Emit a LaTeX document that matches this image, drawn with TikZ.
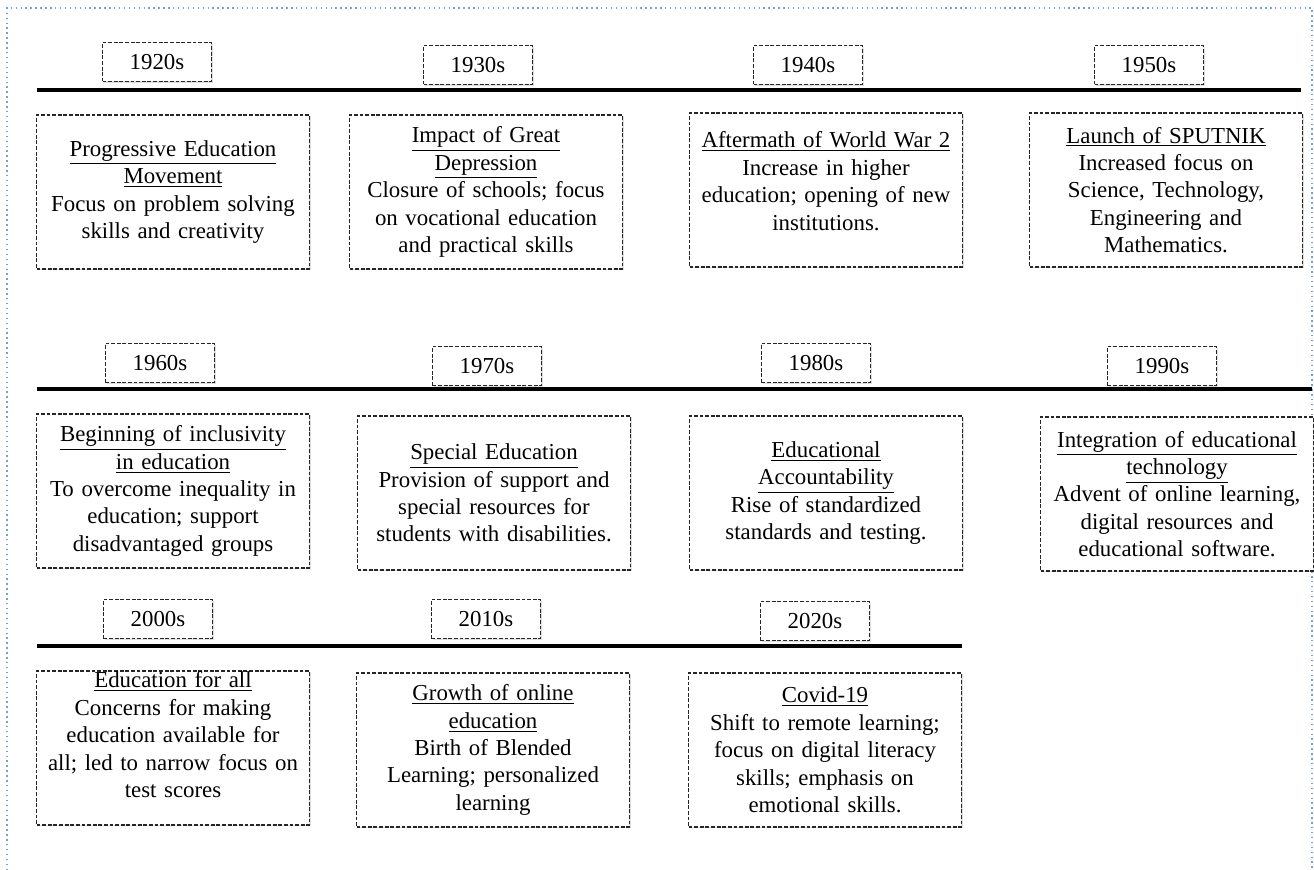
\documentclass[tikz,border=0pt]{standalone}
\usepackage{fontspec}
\setmainfont{Liberation Serif}
\usetikzlibrary{shadows}

\definecolor{framblue}{RGB}{120,160,210}

\tikzset{
    yearbox/.style = {draw = black!85, line width = 1pt, dash pattern = on 2.2pt off 1pt,
        fill = white, drop shadow = {opacity = 0.25, shadow xshift = 0.7pt, shadow yshift = -0.7pt},
        minimum width = 2.18cm, minimum height = 0.78cm, inner sep = 0pt},
    eventbox/.style = {draw = black!85, line width = 1pt, dash pattern = on 2.2pt off 1pt,
        fill = white, drop shadow = {opacity = 0.25, shadow xshift = 0.7pt, shadow yshift = -0.7pt},
        minimum width = 5.46cm, minimum height = 3.08cm, text width = 5.35cm, align = center, inner sep = 0pt},
    timeline/.style = {line width = 1.9pt, black}
}
% extra room below the text, to lift it in its box
\newcommand{\liftby}[1]{\par\vspace{#1}\hrule height 0pt}

\begin{document}
\begin{tikzpicture}[x = {(0.02cm,0)}, y = {(0,-0.02cm)}, font = \fontsize{13}{15.6}\selectfont]
    \useasboundingbox (0,0) rectangle (1314,869);
    %\draw [help lines, step = 100] (0,0) grid (1314,869);
    
    % frame
    \draw[framblue, line width = 0.8pt, dotted] (7,875) -- (7,8) -- (1312,8) -- (1312,875);
    
    % row 1
    \coordinate (r1a) at (37,90);
    \coordinate (r1b) at (1301,90);
    \draw[timeline] (r1a) -- (r1b);
    \node[yearbox] (y1920) at (157,62) {1920s};
    \node[yearbox] (y1930) at (478,65) {1930s};
    \node[yearbox] (y1940) at (808,65) {1940s};
    \node[yearbox] (y1950) at (1149,65) {1950s};
    \node[eventbox] (e1920) at (173,192) {\underline{Progressive Education}\\\underline{Movement}\\Focus on problem solving\\skills and creativity};
    \node[eventbox] (e1930) at (486,192) {\underline{Impact of Great}\\\underline{Depression}\\Closure of schools; focus\\on vocational education\\and practical skills};
    \node[eventbox] (e1940) at (826,190) {\underline{Aftermath of World War 2}\\Increase in higher\\education; opening of new\\institutions.\liftby{10pt}};
    \node[eventbox] (e1950) at (1166,190) {\underline{Launch of SPUTNIK}\\Increased focus on\\Science, Technology,\\Engineering and\\Mathematics.};
    
    % row 2
    \coordinate (r2a) at (37,389);
    \coordinate (r2b) at (1312,389);
    \draw[timeline] (r2a) -- (r2b);
    \node[yearbox] (y1960) at (160,363) {1960s};
    \node[yearbox] (y1970) at (487,366) {1970s};
    \node[yearbox] (y1980) at (816,363) {1980s};
    \node[yearbox] (y1990) at (1162,366) {1990s};
    \node[eventbox] (e1960) at (173,491) {\underline{Beginning of inclusivity}\\\underline{in education}\\To overcome inequality in\\education; support\\disadvantaged groups};
    \node[eventbox] (e1970) at (494,493) {\underline{Special Education}\\Provision of support and\\special resources for\\students with disabilities.};
    \node[eventbox] (e1980) at (826,493) {\underline{Educational}\\\underline{Accountability}\\Rise of standardized\\standards and testing.};
    \node[eventbox] (e1990) at (1177,494) {\underline{Integration of educational}\\\underline{technology}\\Advent of online learning,\\digital resources and\\educational software.};
    
    % row 3
    \coordinate (r3a) at (37,646);
    \coordinate (r3b) at (962,646);
    \draw[timeline] (r3a) -- (r3b);
    \node[yearbox] (y2000) at (158,619) {2000s};
    \node[yearbox] (y2010) at (486,619) {2010s};
    \node[yearbox] (y2020) at (815,621) {2020s};
    \node[eventbox] (e2000) at (173,748) {\underline{Education for all}\\Concerns for making\\education available for\\all; led to narrow focus on\\test scores\liftby{15pt}};
    \node[eventbox] (e2010) at (493,750) {\underline{Growth of online}\\\underline{education}\\Birth of Blended\\Learning; personalized\\learning};
    \node[eventbox] (e2020) at (825,750) {\underline{Covid-19}\\Shift to remote learning;\\focus on digital literacy\\skills; emphasis on\\emotional skills.};
\end{tikzpicture}
\end{document}
